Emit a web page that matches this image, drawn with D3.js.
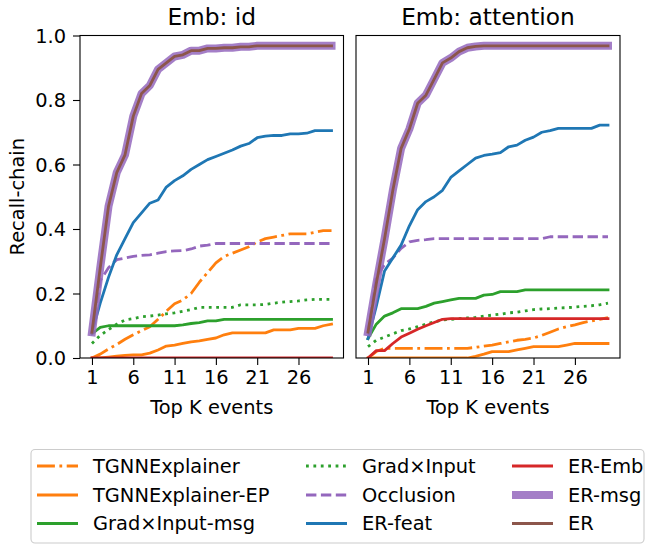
<!DOCTYPE html>
<html>
<head>
<meta charset="utf-8">
<script src="https://cdn.jsdelivr.net/npm/d3@7"></script>
<style>
  body { margin: 0; background: #fff; }
  text { font-family: "DejaVu Sans", sans-serif; fill: #000; }
</style>
</head>
<body>
<svg id="chart" width="648" height="545"></svg>
<script>
// x categories and ticks
const topK = [1, 2, 3, 4, 5, 6, 7, 8, 9, 10, 11, 12, 13, 14, 15, 16, 17, 18, 19, 20, 21, 22, 23, 24, 25, 26, 27, 28, 29, 30];
const xTicks = [1, 6, 11, 16, 21, 26];
const yTicks = [0.0, 0.2, 0.4, 0.6, 0.8, 1.0];
const panelTitles = ["Emb: id", "Emb: attention"];
const seriesNames = ["TGNNExplainer", "TGNNExplainer-EP", "Grad×Input-msg", "Grad×Input", "Occlusion", "ER-feat", "ER-Emb", "ER-msg", "ER"];

// Emb: id
const idTgnn = [0, 0.012, 0.028, 0.042, 0.058, 0.072, 0.085, 0.097, 0.12, 0.145, 0.168, 0.18, 0.2, 0.235, 0.265, 0.295, 0.315, 0.325, 0.335, 0.345, 0.36, 0.37, 0.375, 0.38, 0.385, 0.385, 0.385, 0.39, 0.395, 0.395];
const idTgnnEp = [0, 0, 0.003, 0.006, 0.008, 0.01, 0.01, 0.015, 0.025, 0.037, 0.04, 0.045, 0.05, 0.053, 0.058, 0.062, 0.072, 0.078, 0.078, 0.078, 0.078, 0.078, 0.087, 0.087, 0.087, 0.092, 0.092, 0.092, 0.1, 0.105];
const idGradMsg = [0.075, 0.095, 0.1, 0.1, 0.1, 0.1, 0.1, 0.1, 0.1, 0.1, 0.1, 0.103, 0.107, 0.11, 0.115, 0.115, 0.12, 0.12, 0.12, 0.12, 0.12, 0.12, 0.12, 0.12, 0.12, 0.12, 0.12, 0.12, 0.12, 0.12];
const idGrad = [0.045, 0.07, 0.088, 0.105, 0.118, 0.122, 0.128, 0.13, 0.133, 0.137, 0.14, 0.145, 0.15, 0.157, 0.157, 0.157, 0.157, 0.157, 0.165, 0.165, 0.165, 0.166, 0.17, 0.173, 0.175, 0.177, 0.18, 0.182, 0.182, 0.182];
const idOcclusion = [0.08, 0.24, 0.28, 0.305, 0.31, 0.315, 0.318, 0.32, 0.325, 0.33, 0.332, 0.333, 0.338, 0.347, 0.35, 0.355, 0.355, 0.355, 0.355, 0.355, 0.355, 0.355, 0.355, 0.355, 0.355, 0.355, 0.355, 0.355, 0.355, 0.355];
const idErFeat = [0.08, 0.17, 0.25, 0.32, 0.37, 0.42, 0.45, 0.48, 0.49, 0.53, 0.55, 0.565, 0.585, 0.6, 0.615, 0.625, 0.635, 0.645, 0.657, 0.665, 0.683, 0.688, 0.69, 0.69, 0.695, 0.695, 0.697, 0.705, 0.705, 0.705];
const idErEmb = [0, 0, 0, 0, 0, 0, 0, 0, 0, 0, 0, 0, 0, 0, 0, 0, 0, 0, 0, 0, 0, 0, 0, 0, 0, 0, 0, 0, 0, 0];
const idErMsg = [0.08, 0.28, 0.47, 0.575, 0.63, 0.75, 0.82, 0.845, 0.895, 0.915, 0.935, 0.94, 0.953, 0.953, 0.96, 0.96, 0.962, 0.962, 0.965, 0.965, 0.968, 0.968, 0.968, 0.968, 0.968, 0.968, 0.968, 0.968, 0.968, 0.968];
const idEr = [0.08, 0.28, 0.47, 0.575, 0.63, 0.75, 0.82, 0.845, 0.895, 0.915, 0.935, 0.94, 0.953, 0.953, 0.96, 0.96, 0.962, 0.962, 0.965, 0.965, 0.968, 0.968, 0.968, 0.968, 0.968, 0.968, 0.968, 0.968, 0.968, 0.968];

// Emb: attention
const attTgnn = [0, 0.02, 0.03, 0.03, 0.03, 0.03, 0.03, 0.03, 0.03, 0.03, 0.03, 0.03, 0.03, 0.033, 0.037, 0.04, 0.045, 0.05, 0.055, 0.058, 0.062, 0.07, 0.08, 0.09, 0.097, 0.103, 0.11, 0.115, 0.12, 0.125];
const attTgnnEp = [0, 0, 0, 0, 0, 0, 0, 0, 0, 0, 0, 0, 0, 0.005, 0.012, 0.02, 0.02, 0.02, 0.025, 0.03, 0.035, 0.035, 0.035, 0.035, 0.04, 0.045, 0.045, 0.045, 0.045, 0.045];
const attGradMsg = [0.06, 0.105, 0.13, 0.14, 0.153, 0.153, 0.153, 0.16, 0.17, 0.175, 0.18, 0.185, 0.185, 0.185, 0.195, 0.197, 0.206, 0.206, 0.206, 0.211, 0.211, 0.211, 0.211, 0.211, 0.211, 0.211, 0.211, 0.211, 0.211, 0.211];
const attGrad = [0.035, 0.055, 0.065, 0.075, 0.085, 0.09, 0.097, 0.105, 0.112, 0.118, 0.12, 0.122, 0.124, 0.126, 0.13, 0.133, 0.136, 0.14, 0.142, 0.146, 0.15, 0.152, 0.153, 0.155, 0.156, 0.158, 0.16, 0.162, 0.165, 0.17];
const attOcclusion = [0.08, 0.25, 0.29, 0.31, 0.34, 0.36, 0.365, 0.367, 0.37, 0.37, 0.37, 0.37, 0.37, 0.37, 0.37, 0.37, 0.37, 0.37, 0.37, 0.37, 0.37, 0.37, 0.376, 0.376, 0.376, 0.376, 0.376, 0.376, 0.376, 0.376];
const attErFeat = [0.06, 0.16, 0.27, 0.31, 0.35, 0.41, 0.46, 0.485, 0.5, 0.52, 0.56, 0.58, 0.6, 0.62, 0.628, 0.632, 0.637, 0.655, 0.66, 0.675, 0.685, 0.7, 0.705, 0.712, 0.712, 0.712, 0.712, 0.712, 0.722, 0.722];
const attErEmb = [0, 0.023, 0.023, 0.045, 0.065, 0.077, 0.089, 0.1, 0.11, 0.12, 0.122, 0.122, 0.122, 0.122, 0.122, 0.122, 0.122, 0.122, 0.122, 0.122, 0.122, 0.122, 0.122, 0.122, 0.122, 0.122, 0.122, 0.122, 0.122, 0.122];
const attErMsg = [0.08, 0.23, 0.37, 0.52, 0.65, 0.71, 0.79, 0.815, 0.865, 0.915, 0.93, 0.95, 0.962, 0.966, 0.968, 0.968, 0.968, 0.968, 0.968, 0.968, 0.968, 0.968, 0.968, 0.968, 0.968, 0.968, 0.968, 0.968, 0.968, 0.968];
const attEr = [0.08, 0.23, 0.37, 0.52, 0.65, 0.71, 0.79, 0.815, 0.865, 0.915, 0.93, 0.95, 0.962, 0.966, 0.968, 0.968, 0.968, 0.968, 0.968, 0.968, 0.968, 0.968, 0.968, 0.968, 0.968, 0.968, 0.968, 0.968, 0.968, 0.968];

const panelData = [
    [idTgnn, idTgnnEp, idGradMsg, idGrad, idOcclusion, idErFeat, idErEmb, idErMsg, idEr],
    [attTgnn, attTgnnEp, attGradMsg, attGrad, attOcclusion, attErFeat, attErEmb, attErMsg, attEr]
];

// line styles, matplotlib tab10 look
const lw = 2.8;
const styles = [
    { color: "#ff7f0e", width: lw, dash: "17.9,4.5,2.8,4.5" },
    { color: "#ff7f0e", width: lw, dash: null },
    { color: "#2ca02c", width: lw, dash: null },
    { color: "#2ca02c", width: lw, dash: "2.8,4.6" },
    { color: "#9467bd", width: lw, dash: "10.4,4.5" },
    { color: "#1f77b4", width: lw, dash: null },
    { color: "#d62728", width: lw, dash: null },
    { color: "#9467bd", width: 8, dash: null, opacity: 0.85 },
    { color: "#8c564b", width: lw, dash: null }
];

const svg = d3.select("#chart");
const plotTop = 35.5, plotBottom = 358;
const panels = [
    { left: 80, right: 343.5, yLabels: true },
    { left: 356, right: 620, yLabels: false }
];

const y = d3.scaleLinear().domain([0, 1]).range([plotBottom, plotTop]);

panels.forEach((p, pi) => {
    const x = d3.scaleLinear().domain([-0.45, 31.45]).range([p.left, p.right]);
    const g = svg.append("g");

    g.append("clipPath").attr("id", `clip${pi}`)
        .append("rect")
        .attr("x", p.left).attr("y", plotTop)
        .attr("width", p.right - p.left).attr("height", plotBottom - plotTop);

    const line = d3.line()
        .x((d, i) => x(topK[i]))
        .y(d => y(d));

    const lines = g.append("g").attr("clip-path", `url(#clip${pi})`);
    panelData[pi].forEach((vals, si) => {
        const s = styles[si];
        lines.append("path")
            .attr("d", line(vals))
            .attr("fill", "none")
            .attr("stroke", s.color)
            .attr("stroke-width", s.width)
            .attr("stroke-opacity", s.opacity || 1)
            .attr("stroke-dasharray", s.dash)
            .attr("stroke-linejoin", "round")
            .attr("stroke-linecap", s.dash ? "butt" : "square");
    });

    // x axis
    const xAxis = g.append("g")
        .attr("transform", `translate(0,${plotBottom})`)
        .call(d3.axisBottom(x).tickValues(xTicks).tickSize(7).tickPadding(5).tickFormat(d3.format("d")));
    xAxis.select(".domain").remove();
    xAxis.selectAll("line").attr("stroke", "#000").attr("stroke-width", 1.1);
    xAxis.selectAll("text").style("font-size", "19.4px");

    // y axis
    if (p.yLabels) {
        const yAxis = g.append("g")
            .attr("transform", `translate(${p.left},0)`)
            .call(d3.axisLeft(y).tickValues(yTicks).tickSize(7).tickPadding(7).tickFormat(d3.format(".1f")));
        yAxis.select(".domain").remove();
        yAxis.selectAll("line").attr("stroke", "#000").attr("stroke-width", 1.1);
        yAxis.selectAll("text").style("font-size", "19.4px").attr("dy", "0.36em");
    }

    // frame
    g.append("rect")
        .attr("x", p.left).attr("y", plotTop)
        .attr("width", p.right - p.left).attr("height", plotBottom - plotTop)
        .attr("fill", "none")
        .attr("stroke", "#000")
        .attr("stroke-width", 1.1);

    // title
    g.append("text")
        .attr("x", (p.left + p.right) / 2)
        .attr("y", 25)
        .attr("text-anchor", "middle")
        .style("font-size", "23.3px")
        .text(panelTitles[pi]);

    // x label
    g.append("text")
        .attr("x", (p.left + p.right) / 2)
        .attr("y", 414)
        .attr("text-anchor", "middle")
        .style("font-size", "19.4px")
        .text("Top K events");
});

// y label
svg.append("text")
    .attr("transform", `translate(24,${(plotTop + plotBottom) / 2}) rotate(-90)`)
    .attr("text-anchor", "middle")
    .style("font-size", "19.4px")
    .text("Recall-chain");

// legend
const legend = svg.append("g");
legend.append("rect")
    .attr("x", 31).attr("y", 449.5)
    .attr("width", 613).attr("height", 93.5)
    .attr("rx", 4)
    .attr("fill", "#fff")
    .attr("stroke", "#cccccc")
    .attr("stroke-width", 1.1);

const colX = [37, 306, 512];
const rowY = [466, 495, 523.5];
seriesNames.forEach((name, i) => {
    const c = Math.floor(i / 3), r = i % 3;
    const s = styles[i];
    legend.append("line")
        .attr("x1", colX[c]).attr("x2", colX[c] + 41)
        .attr("y1", rowY[r]).attr("y2", rowY[r])
        .attr("stroke", s.color)
        .attr("stroke-width", s.width)
        .attr("stroke-opacity", s.opacity || 1)
        .attr("stroke-dasharray", s.dash);
    legend.append("text")
        .attr("x", colX[c] + 56)
        .attr("y", rowY[r])
        .attr("dy", "0.35em")
        .style("font-size", "19.4px")
        .text(name);
});
</script>
</body>
</html>
